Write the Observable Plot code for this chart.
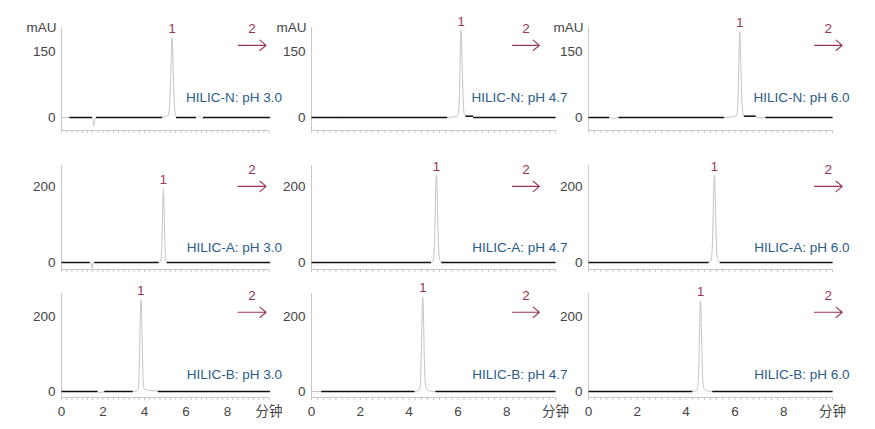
<!DOCTYPE html>
<html><head><meta charset="utf-8">
<script src="https://cdn.jsdelivr.net/npm/d3@7"></script>
<script src="https://cdn.jsdelivr.net/npm/@observablehq/plot@0.6"></script>
<style>
html,body{margin:0;padding:0;background:#fff;}
#chart{position:relative;width:875px;height:429px;overflow:hidden;background:#fff;font-family:"Liberation Sans",Arial,"Noto Sans CJK SC",sans-serif;}
#chart svg{position:absolute;overflow:visible;background:transparent;}
</style></head><body><div id="chart"></div>
<script>
// ---- data ----
const panelTitles = [
  "HILIC-N: pH 3.0", "HILIC-N: pH 4.7", "HILIC-N: pH 6.0",
  "HILIC-A: pH 3.0", "HILIC-A: pH 4.7", "HILIC-A: pH 6.0",
  "HILIC-B: pH 3.0", "HILIC-B: pH 4.7", "HILIC-B: pH 6.0"
];
const yTickValues = [[0, 150], [0, 200], [0, 200]];
const yUnit = "mAU";
const xTickValues = [0, 2, 4, 6, 8, 10];
const xTickLabels = ["0", "2", "4", "6", "8", "分钟"];
const xMinorTicks = [0,0.25,0.5,0.75,1,1.25,1.5,1.75,2,2.25,2.5,2.75,3,3.25,3.5,3.75,4,4.25,4.5,4.75,5,5.25,5.5,5.75,6,6.25,6.5,6.75,7,7.25,7.5,7.75,8,8.25,8.5,8.75,9,9.25,9.5,9.75,10];

const peakTimes   = [5.33, 6.13, 6.20, 4.91, 5.12, 5.16, 3.83, 4.56, 4.59];
const peakHeights = [180, 198, 194, 194, 229, 229, 243, 251, 241];
const peakLabel = "1";
const arrowLabel = "2";
const arrowStart = [8.51, 8.24, 9.26, 8.51, 8.24, 9.26, 8.51, 8.24, 9.26];
const arrowEnd   = [9.86, 9.34, 10.4, 9.86, 9.34, 10.4, 9.86, 9.34, 10.4];
const arrowLevel = [164, 164, 164, 200, 200, 200, 211, 211, 211];

// gray detector traces [time, mAU]
const traceN30 = [[0,0],[1.47,0],[1.52,-6],[1.56,-20],[1.6,-5],[1.66,0],[4.7,0],[5.0,2],[5.13,4],[5.21,30],[5.27,100],[5.305,160],[5.33,180],[5.355,160],[5.39,100],[5.44,30],[5.5,5],[5.58,0],[6.5,0],[6.6,2],[6.72,1],[6.82,-3],[6.9,0],[10,0]];
const traceN47 = [[0,0],[1.03,0],[1.05,2],[1.08,0],[5.55,0],[5.9,2],[6.0,5],[6.05,30],[6.085,110],[6.11,175],[6.13,198],[6.15,175],[6.18,110],[6.22,35],[6.27,6],[6.31,3],[6.62,3],[6.66,0],[10,0]];
const traceN60 = [[0,0],[0.84,0],[1.0,-2],[1.2,0],[5.55,0],[5.95,2],[6.07,5],[6.12,30],[6.155,110],[6.18,172],[6.2,194],[6.22,172],[6.25,110],[6.29,35],[6.34,6],[6.37,3],[6.85,3],[6.95,0],[7.1,-1],[7.25,0],[10,0]];
const traceA30 = [[0,0],[1.38,0],[1.44,-4],[1.47,-16],[1.51,-4],[1.56,0],[4.65,0],[4.78,3],[4.82,25],[4.86,100],[4.89,170],[4.91,194],[4.93,170],[4.96,100],[5.0,25],[5.05,3],[5.1,0],[10,0]];
const traceA47 = [[0,0],[4.85,0],[4.97,3],[5.02,25],[5.065,110],[5.095,200],[5.12,229],[5.145,200],[5.175,110],[5.22,25],[5.27,4],[5.33,0],[10,0]];
const traceA60 = [[0,0],[4.88,0],[5.01,3],[5.06,25],[5.105,110],[5.135,200],[5.16,229],[5.185,200],[5.215,110],[5.26,25],[5.31,4],[5.37,0],[10,0]];
const traceB30 = [[0,0],[1.74,0],[1.8,-3],[1.95,-2],[2.06,0],[3.43,0],[3.65,3],[3.72,20],[3.76,100],[3.8,210],[3.83,243],[3.86,210],[3.9,100],[3.94,25],[3.99,6],[4.2,3],[4.64,1],[4.7,0],[10,0]];
const traceB47 = [[0,0],[4.22,0],[4.4,3],[4.46,20],[4.5,100],[4.535,215],[4.56,251],[4.585,215],[4.62,100],[4.66,25],[4.72,5],[4.9,1],[5.08,0],[10,0]];
const traceB60 = [[0,0],[4.25,0],[4.43,3],[4.49,20],[4.53,100],[4.565,207],[4.59,241],[4.615,207],[4.65,100],[4.69,25],[4.75,5],[4.92,1],[5.07,0],[10,0]];

// black baseline segments [from, to, level]
const baseN30 = [[0.38,1.47,0],[1.66,4.85,0],[5.52,6.48,0],[6.82,10.05,0]];
const baseN47 = [[0,5.56,0],[6.31,6.62,3],[6.62,10,0]];
const baseN60 = [[0,0.84,0],[1.23,5.55,0],[6.37,6.85,3],[7.25,10,0]];
const baseA30 = [[0,1.36,0],[1.58,4.68,0],[5.07,10.05,0]];
const baseA47 = [[0,4.9,0],[5.32,10,0]];
const baseA60 = [[0,4.92,0],[5.38,10,0]];
const baseB30 = [[0,1.74,0],[2.06,3.43,0],[4.64,10.05,0]];
const baseB47 = [[0.4,4.22,0],[5.08,10,0]];
const baseB60 = [[0,4.25,0],[5.07,10,0]];

const traces = [traceN30, traceN47, traceN60, traceA30, traceA47, traceA60, traceB30, traceB47, traceB60];
const baselines = [baseN30, baseN47, baseN60, baseA30, baseA47, baseA60, baseB30, baseB47, baseB60];

// ---- layout ----
const FONT = '"Liberation Sans", Arial, "Noto Sans CJK SC", sans-serif';
const cols = [{x0: 60.5, x1: 268, titleDx: 13}, {x0: 311, x1: 555, titleDx: 12}, {x0: 588, x1: 832, titleDx: 17}];
const rows = [
  {top: 27, bot: 130, dom: [-29.5, 204.5], titleDy: -20},
  {top: 165, bot: 269, dom: [-18.4, 255], titleDy: -15},
  {top: 293, bot: 397, dom: [-16, 261], titleDy: -17}
];
const ML = 45, MR = 25, MT = 30, MB = 30;
const RED = "#9a3458", BLUE = "#2b5c8a", AX = "#c8c8c8", LBL = "#444";

const chart = document.getElementById("chart");
for (let r = 0; r < 3; r++) {
  for (let c = 0; c < 3; c++) {
    const i = r * 3 + c;
    const col = cols[c], row = rows[r];
    const w = col.x1 - col.x0 + ML + MR;
    const h = row.bot - row.top + MT + MB;
    const marks = [
      Plot.ruleX([0], {stroke: AX, strokeWidth: 1}),
      Plot.ruleY([row.dom[0]], {stroke: AX, strokeWidth: 1}),
      Plot.axisX({ticks: xMinorTicks, tickSize: 3, tickFormat: () => "", stroke: AX, label: null}),
      Plot.axisY({ticks: yTickValues[r], tickSize: 0, tickPadding: 6, fontSize: 13.5, color: LBL, label: null}),
      Plot.line(traces[i], {x: d => d[0], y: d => d[1], stroke: "#c4c4c4", strokeWidth: 1, curve: "monotone-x"}),
      Plot.link(baselines[i], {x1: d => d[0], x2: d => d[1], y1: d => d[2], y2: d => d[2], stroke: "#111", strokeWidth: 1.5}),
      Plot.text([peakLabel], {x: () => peakTimes[i], y: () => peakHeights[i], text: d => d, dy: -9, fill: RED, fontSize: 13}),
      Plot.arrow([arrowLabel], {x1: () => arrowStart[i], x2: () => arrowEnd[i], y1: () => arrowLevel[i], y2: () => arrowLevel[i], stroke: RED, strokeWidth: 1.1, headLength: 11, headAngle: 80}),
      Plot.text([arrowLabel], {x: () => (arrowStart[i] + arrowEnd[i]) / 2, y: () => arrowLevel[i], text: d => d, dy: -17, fill: RED, fontSize: 13.5}),
      Plot.text([panelTitles[i]], {x: () => 10, y: () => 0, text: d => d, dx: col.titleDx, dy: row.titleDy, textAnchor: "end", fill: BLUE, fontSize: 13.5})
    ];
    if (r === 0) {
      marks.push(Plot.text([yUnit], {frameAnchor: "top-left", text: d => d, dx: -5, textAnchor: "end", lineAnchor: "middle", fill: LBL, fontSize: 13.5}));
    }
    if (r === 2) {
      marks.push(Plot.axisX({ticks: xTickValues, tickSize: 0, tickPadding: 9, tickFormat: (d) => xTickLabels[xTickValues.indexOf(d)], fontSize: 13.5, color: LBL, label: null}));
    }
    const svg = Plot.plot({
      width: w, height: h,
      marginLeft: ML, marginRight: MR, marginTop: MT, marginBottom: MB,
      x: {domain: [0, 10]},
      y: {domain: row.dom},
      style: {fontFamily: FONT, fontSize: "13px", background: "transparent", overflow: "visible"},
      marks
    });
    svg.style.left = (col.x0 - ML) + "px";
    svg.style.top = (row.top - MT) + "px";
    svg.style.maxWidth = "none";
    chart.appendChild(svg);
  }
}
</script></body></html>
